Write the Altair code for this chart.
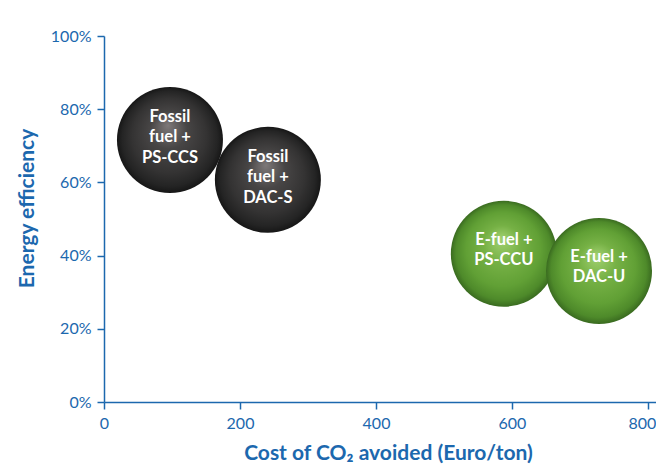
import altair as alt
import pandas as pd

# ---- data ----
labels = ["Fossil\nfuel +\nPS-CCS", "Fossil\nfuel +\nDAC-S", "E-fuel +\nPS-CCU", "E-fuel +\nDAC-U"]
groups = ["fossil", "fossil", "efuel", "efuel"]
cost = [97, 241, 588, 728]
efficiency = [0.716, 0.607, 0.405, 0.358]
x_ticks = [0, 200, 400, 600, 800]
y_ticks = [0, 0.2, 0.4, 0.6, 0.8, 1.0]

df = pd.DataFrame({"label": labels, "group": groups, "cost": cost, "eff": efficiency,
                   "order": list(range(len(labels)))})

BLUE = "#1c68ae"

dark_grad = alt.RadialGradient(
    gradient="radial", x1=0.48, y1=0.36, r1=0.0, x2=0.5, y2=0.5, r2=0.5,
    stops=[
        alt.GradientStop(offset=0.0, color="#7e7979"),
        alt.GradientStop(offset=0.35, color="#474545"),
        alt.GradientStop(offset=0.7, color="#343333"),
        alt.GradientStop(offset=0.9, color="#242424"),
        alt.GradientStop(offset=1.0, color="#161616"),
    ],
)
green_grad = alt.RadialGradient(
    gradient="radial", x1=0.48, y1=0.36, r1=0.0, x2=0.5, y2=0.5, r2=0.5,
    stops=[
        alt.GradientStop(offset=0.0, color="#a2d171"),
        alt.GradientStop(offset=0.35, color="#76b145"),
        alt.GradientStop(offset=0.7, color="#61a035"),
        alt.GradientStop(offset=0.9, color="#4e8a2a"),
        alt.GradientStop(offset=1.0, color="#3a6b20"),
    ],
)

x_enc = alt.X(
    "cost:Q",
    scale=alt.Scale(domain=[0, 811.8], nice=False, zero=False),
    axis=alt.Axis(
        values=x_ticks, title="Cost of CO₂ avoided (Euro/ton)", format="d",
        titleX=284, titleY=57, titleAnchor="middle", titleBaseline="alphabetic",
        labelOffset={"condition": {"test": "datum.value == 800", "value": -6}, "value": 0},
    ),
)
y_enc = alt.Y(
    "eff:Q",
    scale=alt.Scale(domain=[0, 1], nice=False),
    axis=alt.Axis(
        values=y_ticks, format=".0%", title="Energy efficiency",
        titleX=-77, titleY=172, titleAnchor="middle", titleBaseline="middle",
    ),
)

base = alt.Chart(df)

fossil = base.transform_filter(alt.datum.group == "fossil").mark_circle(
    size=11236, opacity=1, fill=dark_grad, strokeWidth=0
).encode(x=x_enc, y=y_enc, order="order:Q")

efuel = base.transform_filter(alt.datum.group == "efuel").mark_circle(
    size=11236, opacity=1, fill=green_grad, strokeWidth=0
).encode(x=x_enc, y=y_enc, order="order:Q")

text_style = dict(lineBreak="\n", font="Lato", fontWeight="bold", fontSize=16.5,
                  color="white", lineHeight=20.5, align="center", baseline="middle")

fossil_text = base.transform_filter(alt.datum.group == "fossil").mark_text(
    dy=-23, **text_style
).encode(x=x_enc, y=y_enc, text="label:N")

efuel_text = base.transform_filter(alt.datum.group == "efuel").mark_text(
    dy=-14, **text_style
).encode(x=x_enc, y=y_enc, text="label:N")

chart = (
    alt.layer(fossil, efuel, fossil_text, efuel_text)
    .properties(width=552, height=366, autosize="none",
                padding={"left": 96, "top": 28, "right": 0, "bottom": 62})
    .configure_view(strokeWidth=0)
    .configure_axis(
        grid=False, domainColor=BLUE, domainWidth=1.5, tickColor=BLUE, tickWidth=1.5,
        tickSize=7, labelColor=BLUE, labelFont="Lato", labelFontSize=16, labelPadding=6,
        labelFlush=False,
        titleColor=BLUE, titleFont="Lato", titleFontSize=21, titleFontWeight="bold",
    )
)

chart.save("out.html", embed_options={"renderer": "svg", "actions": False})
